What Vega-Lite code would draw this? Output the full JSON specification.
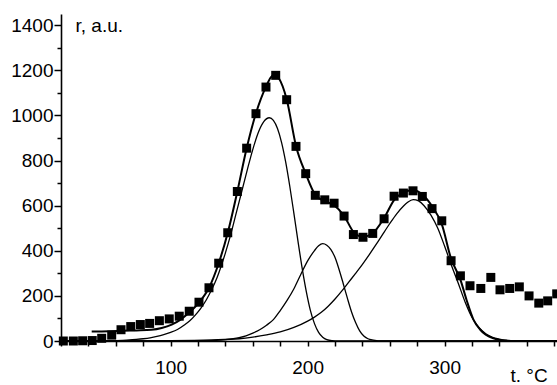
{
  "$schema": "https://vega.github.io/schema/vega-lite/v6.json",
  "autosize": {"type": "none"},
  "padding": {"left": 61, "top": 14, "right": 0, "bottom": 44},
  "width": 496,
  "height": 327,
  "background": "white",
  "config": {
    "view": {"stroke": null},
    "font": "Liberation Sans",
    "axis": {
      "domainColor": "black", "domainWidth": 1.6, "tickColor": "black", "tickWidth": 1.5,
      "labelColor": "black", "labelFont": "Liberation Sans", "labelFontSize": 19,
      "titleFont": "Liberation Sans", "titleFontSize": 19, "titleFontWeight": "normal", "titleColor": "black",
      "grid": false
    }
  },
  "datasets": {
    "pts": [
      {"t": 21.7, "r": 0}, {"t": 29, "r": 0}, {"t": 35.8, "r": 1}, {"t": 42.8, "r": 2}, {"t": 49.7, "r": 12},
      {"t": 57, "r": 26}, {"t": 63.8, "r": 50}, {"t": 70.9, "r": 64}, {"t": 77.9, "r": 73}, {"t": 84.7, "r": 78},
      {"t": 91.8, "r": 90}, {"t": 99, "r": 98}, {"t": 106.3, "r": 110}, {"t": 113.6, "r": 132}, {"t": 120.7, "r": 172},
      {"t": 128, "r": 236}, {"t": 135.1, "r": 345}, {"t": 141.7, "r": 480}, {"t": 148.7, "r": 663}, {"t": 155.5, "r": 855},
      {"t": 162.3, "r": 1008}, {"t": 169.6, "r": 1126}, {"t": 176.7, "r": 1178}, {"t": 184.7, "r": 1070}, {"t": 191.5, "r": 863},
      {"t": 198.6, "r": 742}, {"t": 205.6, "r": 646}, {"t": 212.5, "r": 626}, {"t": 219.3, "r": 611}, {"t": 226.6, "r": 554},
      {"t": 233.4, "r": 472}, {"t": 240.4, "r": 460}, {"t": 247.5, "r": 477}, {"t": 255.8, "r": 542}, {"t": 263.1, "r": 642},
      {"t": 269.9, "r": 656}, {"t": 276.9, "r": 666}, {"t": 283.7, "r": 641}, {"t": 290.8, "r": 587}, {"t": 297.9, "r": 533},
      {"t": 304.7, "r": 356}, {"t": 311.5, "r": 289}, {"t": 318.5, "r": 245}, {"t": 326.4, "r": 233}, {"t": 333.7, "r": 282},
      {"t": 340.4, "r": 227}, {"t": 347.5, "r": 233}, {"t": 354.5, "r": 240}, {"t": 361.6, "r": 200}, {"t": 368.7, "r": 168},
      {"t": 375.2, "r": 178}, {"t": 381.8, "r": 209}
    ],
    "fit": [
      {"t": 42.4, "r": 42}, {"t": 55, "r": 43}, {"t": 65, "r": 45}, {"t": 75, "r": 47}, {"t": 86, "r": 50},
      {"t": 93.5, "r": 58}, {"t": 100.8, "r": 73}, {"t": 107, "r": 94}, {"t": 113.6, "r": 126}, {"t": 120.7, "r": 170},
      {"t": 128, "r": 236}, {"t": 135.1, "r": 345}, {"t": 141.7, "r": 480}, {"t": 148.7, "r": 663}, {"t": 155.5, "r": 855},
      {"t": 162.3, "r": 1010}, {"t": 169.6, "r": 1128}, {"t": 173, "r": 1168}, {"t": 176, "r": 1182}, {"t": 179, "r": 1165},
      {"t": 184.7, "r": 1072}, {"t": 191.5, "r": 865}, {"t": 198.6, "r": 742}, {"t": 205.6, "r": 648}, {"t": 212.5, "r": 620},
      {"t": 219.3, "r": 602}, {"t": 226.6, "r": 555}, {"t": 233.4, "r": 485}, {"t": 240.4, "r": 462}, {"t": 247.5, "r": 478},
      {"t": 255.8, "r": 545}, {"t": 263.1, "r": 625}, {"t": 269.9, "r": 658}, {"t": 276.9, "r": 668}, {"t": 283.7, "r": 650},
      {"t": 290.8, "r": 598}, {"t": 297.9, "r": 518}, {"t": 304.7, "r": 365}, {"t": 311.5, "r": 272}, {"t": 316, "r": 182},
      {"t": 321, "r": 95}, {"t": 326, "r": 50}, {"t": 330, "r": 28}, {"t": 335, "r": 13}, {"t": 340, "r": 5},
      {"t": 345, "r": 2}, {"t": 350, "r": 0}, {"t": 382, "r": 0}
    ],
    "peaks": [
      {"peak": "1", "t": 20, "r": 0}, {"peak": "1", "t": 40, "r": 0.3}, {"peak": "1", "t": 50, "r": 0.8}, {"peak": "1", "t": 60, "r": 2},
      {"peak": "1", "t": 65, "r": 3}, {"peak": "1", "t": 70, "r": 4.5}, {"peak": "1", "t": 75, "r": 7}, {"peak": "1", "t": 80, "r": 10},
      {"peak": "1", "t": 85, "r": 14}, {"peak": "1", "t": 90, "r": 20}, {"peak": "1", "t": 95, "r": 28}, {"peak": "1", "t": 100, "r": 38},
      {"peak": "1", "t": 105, "r": 51}, {"peak": "1", "t": 110, "r": 71}, {"peak": "1", "t": 114, "r": 90}, {"peak": "1", "t": 118, "r": 115},
      {"peak": "1", "t": 122, "r": 145}, {"peak": "1", "t": 126, "r": 182}, {"peak": "1", "t": 130, "r": 228}, {"peak": "1", "t": 134, "r": 283},
      {"peak": "1", "t": 140, "r": 391}, {"peak": "1", "t": 144, "r": 475}, {"peak": "1", "t": 148, "r": 570}, {"peak": "1", "t": 152, "r": 665},
      {"peak": "1", "t": 156, "r": 760}, {"peak": "1", "t": 160, "r": 850}, {"peak": "1", "t": 164, "r": 925}, {"peak": "1", "t": 168, "r": 973},
      {"peak": "1", "t": 172, "r": 990}, {"peak": "1", "t": 175, "r": 978}, {"peak": "1", "t": 178, "r": 942}, {"peak": "1", "t": 181, "r": 880},
      {"peak": "1", "t": 184, "r": 793}, {"peak": "1", "t": 187, "r": 685}, {"peak": "1", "t": 190, "r": 565}, {"peak": "1", "t": 193, "r": 441},
      {"peak": "1", "t": 196, "r": 323}, {"peak": "1", "t": 199, "r": 220}, {"peak": "1", "t": 202, "r": 136}, {"peak": "1", "t": 205, "r": 77},
      {"peak": "1", "t": 208, "r": 38}, {"peak": "1", "t": 211, "r": 17}, {"peak": "1", "t": 214, "r": 6}, {"peak": "1", "t": 218, "r": 1.3},
      {"peak": "1", "t": 222, "r": 0}, {"peak": "1", "t": 382, "r": 0},
      {"peak": "2", "t": 20, "r": 0}, {"peak": "2", "t": 120, "r": 1}, {"peak": "2", "t": 130, "r": 2}, {"peak": "2", "t": 140, "r": 6},
      {"peak": "2", "t": 150, "r": 15}, {"peak": "2", "t": 155, "r": 23}, {"peak": "2", "t": 160, "r": 35}, {"peak": "2", "t": 165, "r": 50},
      {"peak": "2", "t": 170, "r": 70}, {"peak": "2", "t": 175, "r": 95}, {"peak": "2", "t": 180, "r": 135}, {"peak": "2", "t": 185, "r": 180},
      {"peak": "2", "t": 190, "r": 232}, {"peak": "2", "t": 195, "r": 295}, {"peak": "2", "t": 200, "r": 355}, {"peak": "2", "t": 205, "r": 401},
      {"peak": "2", "t": 208, "r": 422}, {"peak": "2", "t": 211, "r": 432}, {"peak": "2", "t": 214, "r": 425}, {"peak": "2", "t": 217, "r": 405},
      {"peak": "2", "t": 220, "r": 370}, {"peak": "2", "t": 223, "r": 316}, {"peak": "2", "t": 226, "r": 254}, {"peak": "2", "t": 229, "r": 190},
      {"peak": "2", "t": 232, "r": 130}, {"peak": "2", "t": 235, "r": 82}, {"peak": "2", "t": 238, "r": 45}, {"peak": "2", "t": 241, "r": 22},
      {"peak": "2", "t": 244, "r": 10}, {"peak": "2", "t": 248, "r": 4}, {"peak": "2", "t": 255, "r": 0}, {"peak": "2", "t": 382, "r": 0},
      {"peak": "3", "t": 20, "r": 0}, {"peak": "3", "t": 100, "r": 2}, {"peak": "3", "t": 130, "r": 5}, {"peak": "3", "t": 150, "r": 10},
      {"peak": "3", "t": 160, "r": 17}, {"peak": "3", "t": 170, "r": 27}, {"peak": "3", "t": 180, "r": 40}, {"peak": "3", "t": 190, "r": 60},
      {"peak": "3", "t": 200, "r": 88}, {"peak": "3", "t": 205, "r": 106}, {"peak": "3", "t": 210, "r": 127}, {"peak": "3", "t": 215, "r": 154},
      {"peak": "3", "t": 220, "r": 186}, {"peak": "3", "t": 225, "r": 222}, {"peak": "3", "t": 230, "r": 261}, {"peak": "3", "t": 235, "r": 300},
      {"peak": "3", "t": 240, "r": 340}, {"peak": "3", "t": 245, "r": 383}, {"peak": "3", "t": 250, "r": 428}, {"peak": "3", "t": 255, "r": 475},
      {"peak": "3", "t": 260, "r": 521}, {"peak": "3", "t": 265, "r": 564}, {"peak": "3", "t": 270, "r": 599}, {"peak": "3", "t": 273, "r": 615},
      {"peak": "3", "t": 277, "r": 627}, {"peak": "3", "t": 281, "r": 621},
      {"peak": "3", "t": 285, "r": 600}, {"peak": "3", "t": 290, "r": 558}, {"peak": "3", "t": 295, "r": 500},
      {"peak": "3", "t": 300, "r": 420}, {"peak": "3", "t": 305, "r": 335}, {"peak": "3", "t": 310, "r": 255}, {"peak": "3", "t": 315, "r": 172},
      {"peak": "3", "t": 320, "r": 104}, {"peak": "3", "t": 325, "r": 60}, {"peak": "3", "t": 330, "r": 32}, {"peak": "3", "t": 335, "r": 16},
      {"peak": "3", "t": 340, "r": 8}, {"peak": "3", "t": 345, "r": 3}, {"peak": "3", "t": 350, "r": 1}, {"peak": "3", "t": 355, "r": 0},
      {"peak": "3", "t": 382, "r": 0}
    ]
  },
  "encoding": {
    "x": {
      "field": "t", "type": "quantitative",
      "scale": {"domain": [20, 382], "nice": false, "zero": false},
      "axis": {
        "values": [20, 40, 60, 80, 100, 120, 140, 160, 180, 200, 220, 240, 260, 280, 300, 320, 340, 360, 380],
        "labelExpr": "datum.value % 100 === 0 ? datum.label : ''",
        "format": "d",
        "tickSize": 5, "labelPadding": 12, "labelFlush": false, "labelOverlap": false,
        "title": "t. °C", "titleAngle": 0, "titleAlign": "left", "titleBaseline": "middle",
        "titleX": 449, "titleY": 34
      }
    },
    "y": {
      "field": "r", "type": "quantitative",
      "scale": {"domain": [0, 1450], "nice": false},
      "axis": {
        "values": [0, 100, 200, 300, 400, 500, 600, 700, 800, 900, 1000, 1100, 1200, 1300, 1400],
        "format": "d",
        "labelExpr": "datum.value % 200 === 0 ? datum.label : ''",
        "tickSize": {"condition": {"test": "datum.value % 200 === 0", "value": 7}, "value": 4},
        "labelPadding": 1, "labelOverlap": false,
        "title": "r, a.u.", "titleAngle": 0, "titleAlign": "left", "titleBaseline": "middle",
        "titleX": 14, "titleY": 11
      }
    }
  },
  "layer": [
    {
      "data": {"name": "peaks"},
      "mark": {"type": "line", "color": "black", "strokeWidth": 1.3, "interpolate": "monotone", "clip": true},
      "encoding": {"detail": {"field": "peak", "type": "nominal"}}
    },
    {
      "data": {"name": "fit"},
      "mark": {"type": "line", "color": "black", "strokeWidth": 2, "interpolate": "monotone", "clip": true},
      "encoding": {}
    },
    {
      "data": {"name": "pts"},
      "mark": {"type": "point", "shape": "square", "filled": true, "color": "black", "opacity": 1, "size": 81},
      "encoding": {}
    }
  ]
}
